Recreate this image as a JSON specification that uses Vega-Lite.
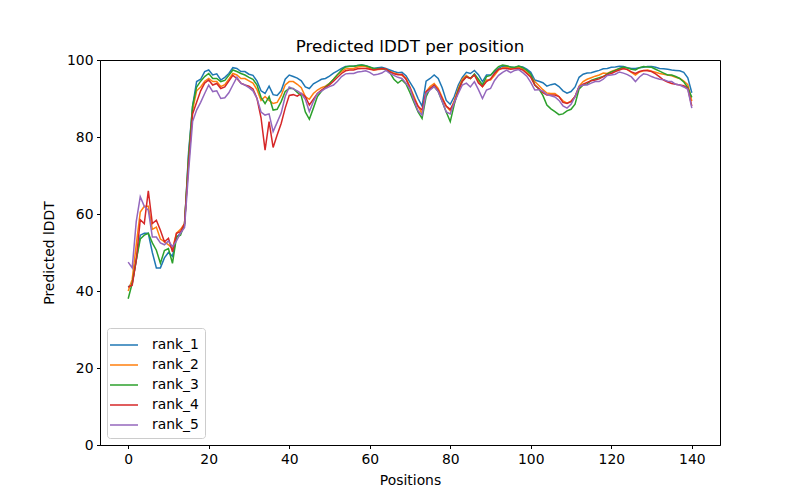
{
  "$schema": "https://vega.github.io/schema/vega-lite/v6.json",
  "autosize": {"type": "none"},
  "width": 620,
  "height": 385,
  "padding": {"left": 100, "top": 60, "right": 80, "bottom": 55},
  "background": "white",
  "title": {"text": "Predicted lDDT per position", "font": "DejaVu Sans", "fontSize": 16.7, "fontWeight": "normal", "color": "black", "offset": -3, "anchor": "middle"},
  "data": {"values": [
    {"p":0,"rank_1":41,"rank_2":40,"rank_3":38,"rank_4":41,"rank_5":47.5},
    {"p":1,"rank_1":42,"rank_2":43,"rank_3":42,"rank_4":41.5,"rank_5":46},
    {"p":2,"rank_1":48,"rank_2":52,"rank_3":48,"rank_4":48,"rank_5":58},
    {"p":3,"rank_1":54.5,"rank_2":60.5,"rank_3":53.5,"rank_4":58.5,"rank_5":64.5},
    {"p":4,"rank_1":55,"rank_2":62,"rank_3":54.5,"rank_4":57.5,"rank_5":62},
    {"p":5,"rank_1":55,"rank_2":62,"rank_3":55,"rank_4":66,"rank_5":61},
    {"p":6,"rank_1":50,"rank_2":56,"rank_3":52.5,"rank_4":57.5,"rank_5":54},
    {"p":7,"rank_1":46,"rank_2":56.6,"rank_3":50.6,"rank_4":58.4,"rank_5":54},
    {"p":8,"rank_1":46,"rank_2":53.5,"rank_3":47.2,"rank_4":55.8,"rank_5":52.5},
    {"p":9,"rank_1":48.6,"rank_2":52.8,"rank_3":50.5,"rank_4":52.8,"rank_5":52},
    {"p":10,"rank_1":50,"rank_2":52,"rank_3":51,"rank_4":53.7,"rank_5":53},
    {"p":11,"rank_1":49,"rank_2":51,"rank_3":47.2,"rank_4":50.2,"rank_5":51.5},
    {"p":12,"rank_1":54,"rank_2":55,"rank_3":54,"rank_4":55,"rank_5":53},
    {"p":13,"rank_1":55,"rank_2":56,"rank_3":54.5,"rank_4":55.4,"rank_5":55},
    {"p":14,"rank_1":57,"rank_2":57.5,"rank_3":57.5,"rank_4":57.5,"rank_5":56.5},
    {"p":15,"rank_1":76,"rank_2":74,"rank_3":75,"rank_4":73,"rank_5":71},
    {"p":16,"rank_1":88,"rank_2":87,"rank_3":88,"rank_4":86,"rank_5":84},
    {"p":17,"rank_1":94.4,"rank_2":92,"rank_3":93,"rank_4":89,"rank_5":87},
    {"p":18,"rank_1":95,"rank_2":93,"rank_3":94.5,"rank_4":92,"rank_5":89},
    {"p":19,"rank_1":97,"rank_2":94.5,"rank_3":95.7,"rank_4":94,"rank_5":91.3},
    {"p":20,"rank_1":97.4,"rank_2":95.2,"rank_3":96.5,"rank_4":94.8,"rank_5":93.5},
    {"p":21,"rank_1":96.1,"rank_2":94.4,"rank_3":95.2,"rank_4":93.5,"rank_5":91.8},
    {"p":22,"rank_1":96.4,"rank_2":94.4,"rank_3":95.2,"rank_4":93.9,"rank_5":92},
    {"p":23,"rank_1":94.8,"rank_2":93.1,"rank_3":94.4,"rank_4":92.6,"rank_5":90},
    {"p":24,"rank_1":95.5,"rank_2":93.6,"rank_3":94.7,"rank_4":93,"rank_5":90.2},
    {"p":25,"rank_1":96.5,"rank_2":95,"rank_3":96,"rank_4":94.5,"rank_5":91.5},
    {"p":26,"rank_1":98,"rank_2":96.5,"rank_3":97.4,"rank_4":96,"rank_5":93.5},
    {"p":27,"rank_1":97.8,"rank_2":96.1,"rank_3":97,"rank_4":95.2,"rank_5":95.5},
    {"p":28,"rank_1":97,"rank_2":95.2,"rank_3":96.5,"rank_4":94,"rank_5":93.9},
    {"p":29,"rank_1":97,"rank_2":95.2,"rank_3":96.1,"rank_4":93.5,"rank_5":93.5},
    {"p":30,"rank_1":96.3,"rank_2":94.6,"rank_3":95.5,"rank_4":93.2,"rank_5":92.8},
    {"p":31,"rank_1":96,"rank_2":94,"rank_3":95,"rank_4":92.5,"rank_5":92},
    {"p":32,"rank_1":94.5,"rank_2":92.3,"rank_3":93.5,"rank_4":90,"rank_5":90},
    {"p":33,"rank_1":92,"rank_2":89.5,"rank_3":90.3,"rank_4":85,"rank_5":86.5},
    {"p":34,"rank_1":91.3,"rank_2":90.5,"rank_3":88.7,"rank_4":76.6,"rank_5":85.7},
    {"p":35,"rank_1":93.2,"rank_2":89.5,"rank_3":90.5,"rank_4":84,"rank_5":86},
    {"p":36,"rank_1":91,"rank_2":88.7,"rank_3":87,"rank_4":77.3,"rank_5":81.4},
    {"p":37,"rank_1":90.8,"rank_2":89,"rank_3":87.2,"rank_4":80.5,"rank_5":83.8},
    {"p":38,"rank_1":92,"rank_2":90.8,"rank_3":89.2,"rank_4":83.5,"rank_5":86.2},
    {"p":39,"rank_1":95,"rank_2":93.5,"rank_3":91.8,"rank_4":87.5,"rank_5":90.5},
    {"p":40,"rank_1":96.1,"rank_2":94.4,"rank_3":92.6,"rank_4":90.8,"rank_5":93},
    {"p":41,"rank_1":95.7,"rank_2":94.4,"rank_3":92.6,"rank_4":91,"rank_5":92.5},
    {"p":42,"rank_1":95.3,"rank_2":93.7,"rank_3":91.6,"rank_4":90.6,"rank_5":92},
    {"p":43,"rank_1":94.6,"rank_2":92.8,"rank_3":90.7,"rank_4":91.3,"rank_5":91.3},
    {"p":44,"rank_1":93,"rank_2":90.5,"rank_3":86.5,"rank_4":90.5,"rank_5":89.8},
    {"p":45,"rank_1":92.6,"rank_2":89.8,"rank_3":84.6,"rank_4":88.3,"rank_5":86.6},
    {"p":46,"rank_1":93.8,"rank_2":91.3,"rank_3":87.5,"rank_4":89.8,"rank_5":89.2},
    {"p":47,"rank_1":94.4,"rank_2":92.2,"rank_3":90.5,"rank_4":91.3,"rank_5":91.3},
    {"p":48,"rank_1":95,"rank_2":92.8,"rank_3":91.9,"rank_4":92.2,"rank_5":91.9},
    {"p":49,"rank_1":95.2,"rank_2":93.2,"rank_3":93,"rank_4":92.8,"rank_5":92.6},
    {"p":50,"rank_1":95.8,"rank_2":93.9,"rank_3":93.9,"rank_4":93.5,"rank_5":93.1},
    {"p":51,"rank_1":96.6,"rank_2":95,"rank_3":95,"rank_4":94.5,"rank_5":93.5},
    {"p":52,"rank_1":97.2,"rank_2":96.2,"rank_3":96.2,"rank_4":95.5,"rank_5":94.5},
    {"p":53,"rank_1":97.8,"rank_2":97,"rank_3":97.4,"rank_4":96.5,"rank_5":95.7},
    {"p":54,"rank_1":98.3,"rank_2":97.7,"rank_3":98.2,"rank_4":97.2,"rank_5":96.4},
    {"p":55,"rank_1":98.4,"rank_2":97.8,"rank_3":98.4,"rank_4":97.4,"rank_5":96.5},
    {"p":56,"rank_1":98.4,"rank_2":97.8,"rank_3":98.4,"rank_4":97.4,"rank_5":96.5},
    {"p":57,"rank_1":98.6,"rank_2":98.2,"rank_3":98.6,"rank_4":97.7,"rank_5":96.9},
    {"p":58,"rank_1":98.7,"rank_2":98.3,"rank_3":98.7,"rank_4":97.8,"rank_5":97},
    {"p":59,"rank_1":98.5,"rank_2":98.3,"rank_3":98.5,"rank_4":97.8,"rank_5":97.2},
    {"p":60,"rank_1":98.1,"rank_2":97.8,"rank_3":98.2,"rank_4":97.6,"rank_5":96.8},
    {"p":61,"rank_1":97.8,"rank_2":97.4,"rank_3":97.8,"rank_4":97.4,"rank_5":96.1},
    {"p":62,"rank_1":98,"rank_2":97.5,"rank_3":97.8,"rank_4":97.6,"rank_5":96.3},
    {"p":63,"rank_1":98.1,"rank_2":97.6,"rank_3":97.8,"rank_4":97.8,"rank_5":96.6},
    {"p":64,"rank_1":97.8,"rank_2":97.6,"rank_3":97.6,"rank_4":97.7,"rank_5":97.3},
    {"p":65,"rank_1":97.4,"rank_2":97,"rank_3":96.7,"rank_4":97,"rank_5":96.5},
    {"p":66,"rank_1":97,"rank_2":96.6,"rank_3":95,"rank_4":96.4,"rank_5":96},
    {"p":67,"rank_1":96.7,"rank_2":96.3,"rank_3":94,"rank_4":96.2,"rank_5":95.5},
    {"p":68,"rank_1":96.8,"rank_2":96,"rank_3":94.8,"rank_4":96.3,"rank_5":95.2},
    {"p":69,"rank_1":95.9,"rank_2":95.3,"rank_3":93.8,"rank_4":95,"rank_5":94},
    {"p":70,"rank_1":94.2,"rank_2":93,"rank_3":91.5,"rank_4":92.8,"rank_5":92.5},
    {"p":71,"rank_1":92.5,"rank_2":90.5,"rank_3":89,"rank_4":90,"rank_5":89.5},
    {"p":72,"rank_1":90,"rank_2":88,"rank_3":86.5,"rank_4":88,"rank_5":86.8},
    {"p":73,"rank_1":88,"rank_2":86,"rank_3":84.8,"rank_4":87,"rank_5":85.7},
    {"p":74,"rank_1":94.5,"rank_2":91.8,"rank_3":90.5,"rank_4":91.8,"rank_5":91.3},
    {"p":75,"rank_1":95.2,"rank_2":93.1,"rank_3":92.6,"rank_4":92.6,"rank_5":92.2},
    {"p":76,"rank_1":96.1,"rank_2":93.9,"rank_3":93.1,"rank_4":93.5,"rank_5":93.1},
    {"p":77,"rank_1":95.2,"rank_2":92.6,"rank_3":91.8,"rank_4":92.2,"rank_5":91.8},
    {"p":78,"rank_1":92.8,"rank_2":90.3,"rank_3":89.2,"rank_4":90,"rank_5":89.2},
    {"p":79,"rank_1":89.5,"rank_2":88,"rank_3":86.5,"rank_4":88,"rank_5":86.5},
    {"p":80,"rank_1":88.5,"rank_2":86.8,"rank_3":84,"rank_4":87.2,"rank_5":86},
    {"p":81,"rank_1":90.5,"rank_2":89.5,"rank_3":88.5,"rank_4":89,"rank_5":89},
    {"p":82,"rank_1":93.5,"rank_2":92.6,"rank_3":92.2,"rank_4":91.8,"rank_5":91.3},
    {"p":83,"rank_1":95.5,"rank_2":95,"rank_3":94.5,"rank_4":94.5,"rank_5":93.5},
    {"p":84,"rank_1":96.8,"rank_2":96,"rank_3":95.7,"rank_4":95.6,"rank_5":94},
    {"p":85,"rank_1":96.5,"rank_2":95.2,"rank_3":95.2,"rank_4":95.2,"rank_5":93},
    {"p":86,"rank_1":97.3,"rank_2":96.1,"rank_3":96.4,"rank_4":96.1,"rank_5":94.4},
    {"p":87,"rank_1":96.2,"rank_2":94.6,"rank_3":95,"rank_4":94,"rank_5":92.3},
    {"p":88,"rank_1":94.4,"rank_2":93.1,"rank_3":93.5,"rank_4":93.1,"rank_5":90},
    {"p":89,"rank_1":96.1,"rank_2":94.8,"rank_3":95.7,"rank_4":94.4,"rank_5":92.2},
    {"p":90,"rank_1":96.1,"rank_2":94.8,"rank_3":96,"rank_4":95.1,"rank_5":92.6},
    {"p":91,"rank_1":96.9,"rank_2":96,"rank_3":97.3,"rank_4":96.5,"rank_5":94.7},
    {"p":92,"rank_1":97.8,"rank_2":97.4,"rank_3":98.3,"rank_4":97.6,"rank_5":96},
    {"p":93,"rank_1":98.4,"rank_2":98,"rank_3":98.7,"rank_4":97.8,"rank_5":96.8},
    {"p":94,"rank_1":98.4,"rank_2":98.1,"rank_3":98.5,"rank_4":97.8,"rank_5":97.4},
    {"p":95,"rank_1":98.2,"rank_2":97.8,"rank_3":98.2,"rank_4":97.6,"rank_5":96.7},
    {"p":96,"rank_1":98,"rank_2":97.9,"rank_3":98.1,"rank_4":97.7,"rank_5":97.3},
    {"p":97,"rank_1":98.4,"rank_2":98.1,"rank_3":98.4,"rank_4":97.8,"rank_5":97.5},
    {"p":98,"rank_1":98.2,"rank_2":97.7,"rank_3":98,"rank_4":97.4,"rank_5":96.7},
    {"p":99,"rank_1":97.6,"rank_2":96.8,"rank_3":97.3,"rank_4":96.5,"rank_5":95.8},
    {"p":100,"rank_1":96.8,"rank_2":95.8,"rank_3":96.3,"rank_4":95.5,"rank_5":94.2},
    {"p":101,"rank_1":94.8,"rank_2":94.4,"rank_3":93.5,"rank_4":93.5,"rank_5":92.2},
    {"p":102,"rank_1":94.5,"rank_2":93.4,"rank_3":92.5,"rank_4":92.6,"rank_5":92.3},
    {"p":103,"rank_1":94.1,"rank_2":92.3,"rank_3":90.8,"rank_4":91.5,"rank_5":91.9},
    {"p":104,"rank_1":93.2,"rank_2":91.4,"rank_3":88.3,"rank_4":90.9,"rank_5":91},
    {"p":105,"rank_1":93.6,"rank_2":91.3,"rank_3":87.3,"rank_4":90.9,"rank_5":90.7},
    {"p":106,"rank_1":93.8,"rank_2":91.3,"rank_3":86.6,"rank_4":90.9,"rank_5":90.4},
    {"p":107,"rank_1":93.1,"rank_2":90.5,"rank_3":85.8,"rank_4":90.5,"rank_5":89.5},
    {"p":108,"rank_1":92,"rank_2":89.4,"rank_3":86,"rank_4":89,"rank_5":88.1},
    {"p":109,"rank_1":91.4,"rank_2":88.8,"rank_3":86.8,"rank_4":88.7,"rank_5":87.5},
    {"p":110,"rank_1":91.8,"rank_2":89.3,"rank_3":87.2,"rank_4":89.2,"rank_5":88.5},
    {"p":111,"rank_1":93,"rank_2":90.5,"rank_3":88.5,"rank_4":90.5,"rank_5":90.5},
    {"p":112,"rank_1":95.5,"rank_2":93.2,"rank_3":92.5,"rank_4":93,"rank_5":93.1},
    {"p":113,"rank_1":96.3,"rank_2":94.4,"rank_3":93.5,"rank_4":93.7,"rank_5":93.5},
    {"p":114,"rank_1":96.6,"rank_2":95,"rank_3":93.8,"rank_4":94.2,"rank_5":93.5},
    {"p":115,"rank_1":96.7,"rank_2":95.4,"rank_3":94.7,"rank_4":94.6,"rank_5":94},
    {"p":116,"rank_1":97,"rank_2":95.8,"rank_3":95.1,"rank_4":94.8,"rank_5":94.4},
    {"p":117,"rank_1":97.3,"rank_2":96.1,"rank_3":95.4,"rank_4":95.1,"rank_5":94.4},
    {"p":118,"rank_1":97.7,"rank_2":96.6,"rank_3":95.7,"rank_4":95.7,"rank_5":95},
    {"p":119,"rank_1":97.8,"rank_2":96.5,"rank_3":96.4,"rank_4":96.2,"rank_5":96},
    {"p":120,"rank_1":98.1,"rank_2":97,"rank_3":96.9,"rank_4":96.5,"rank_5":96.1},
    {"p":121,"rank_1":98.2,"rank_2":97.4,"rank_3":97.3,"rank_4":97,"rank_5":96.3},
    {"p":122,"rank_1":98.4,"rank_2":97.7,"rank_3":97.8,"rank_4":97.4,"rank_5":96.9},
    {"p":123,"rank_1":98.3,"rank_2":97.8,"rank_3":98.2,"rank_4":97.8,"rank_5":96.6},
    {"p":124,"rank_1":98,"rank_2":97.5,"rank_3":97.9,"rank_4":97.5,"rank_5":96.2},
    {"p":125,"rank_1":97.8,"rank_2":96.8,"rank_3":97.6,"rank_4":96.9,"rank_5":95.6},
    {"p":126,"rank_1":97.8,"rank_2":96.1,"rank_3":97.4,"rank_4":96.5,"rank_5":94.4},
    {"p":127,"rank_1":98,"rank_2":96.9,"rank_3":98,"rank_4":97,"rank_5":95.6},
    {"p":128,"rank_1":98.1,"rank_2":97.2,"rank_3":98.3,"rank_4":97.3,"rank_5":96.4},
    {"p":129,"rank_1":98.3,"rank_2":97.4,"rank_3":98.2,"rank_4":97.2,"rank_5":96.2},
    {"p":130,"rank_1":98.3,"rank_2":97.1,"rank_3":98.1,"rank_4":97,"rank_5":95.7},
    {"p":131,"rank_1":98.1,"rank_2":96.8,"rank_3":97.6,"rank_4":96.4,"rank_5":95.3},
    {"p":132,"rank_1":97.8,"rank_2":96.5,"rank_3":97.1,"rank_4":95.6,"rank_5":95},
    {"p":133,"rank_1":97.7,"rank_2":96.3,"rank_3":96.6,"rank_4":94.8,"rank_5":94.9},
    {"p":134,"rank_1":97.6,"rank_2":96.1,"rank_3":96.1,"rank_4":94.3,"rank_5":94.5},
    {"p":135,"rank_1":97.4,"rank_2":95.9,"rank_3":96.1,"rank_4":93.9,"rank_5":94.4},
    {"p":136,"rank_1":97.3,"rank_2":95.5,"rank_3":95.7,"rank_4":93.7,"rank_5":93.7},
    {"p":137,"rank_1":97.2,"rank_2":95.2,"rank_3":95.2,"rank_4":93.5,"rank_5":93.5},
    {"p":138,"rank_1":96.8,"rank_2":94.5,"rank_3":94.3,"rank_4":93.3,"rank_5":93},
    {"p":139,"rank_1":95.4,"rank_2":93.6,"rank_3":92.8,"rank_4":92.6,"rank_5":92.4},
    {"p":140,"rank_1":91.5,"rank_2":89.3,"rank_3":90.3,"rank_4":88,"rank_5":87.5}
  ]},
  "transform": [
    {"fold": ["rank_1", "rank_2", "rank_3", "rank_4", "rank_5"], "as": ["model", "lddt"]}
  ],
  "mark": {"type": "line", "strokeWidth": 1.5, "clip": true},
  "encoding": {
    "x": {
      "field": "p", "type": "quantitative",
      "scale": {"domain": [-7, 147], "nice": false, "zero": false},
      "axis": {"title": "Positions", "values": [0, 20, 40, 60, 80, 100, 120, 140], "grid": false}
    },
    "y": {
      "field": "lddt", "type": "quantitative",
      "scale": {"domain": [0, 100], "nice": false},
      "axis": {"title": "Predicted lDDT", "values": [0, 20, 40, 60, 80, 100], "grid": false}
    },
    "color": {
      "field": "model", "type": "nominal",
      "scale": {"domain": ["rank_1", "rank_2", "rank_3", "rank_4", "rank_5"], "range": ["#1f77b4", "#ff7f0e", "#2ca02c", "#d62728", "#9467bd"]},
      "legend": {
        "title": null,
        "orient": "bottom-left",
        "offset": 7,
        "symbolType": "M-1.4,0H1.4",
        "symbolSize": 400,
        "symbolStrokeWidth": 1.5,
        "symbolFillColor": "transparent",
        "labelFont": "DejaVu Sans",
        "labelFontSize": 13.9,
        "labelColor": "black",
        "labelOffset": 17,
        "rowPadding": 2,
        "padding": 6,
        "strokeColor": "#cccccc",
        "fillColor": "white",
        "cornerRadius": 3
      }
    }
  },
  "config": {
    "view": {"stroke": "black", "strokeWidth": 1},
    "axis": {
      "domainColor": "black",
      "domainWidth": 1,
      "tickColor": "black",
      "tickSize": 3.5,
      "tickWidth": 1,
      "labelPadding": 3.5,
      "labelFont": "DejaVu Sans",
      "labelFontSize": 13.9,
      "labelColor": "black",
      "titleFont": "DejaVu Sans",
      "titleFontSize": 13.9,
      "titleFontWeight": "normal",
      "titleColor": "black"
    },
    "axisX": {"titlePadding": 8},
    "axisY": {"titlePadding": 10}
  }
}
